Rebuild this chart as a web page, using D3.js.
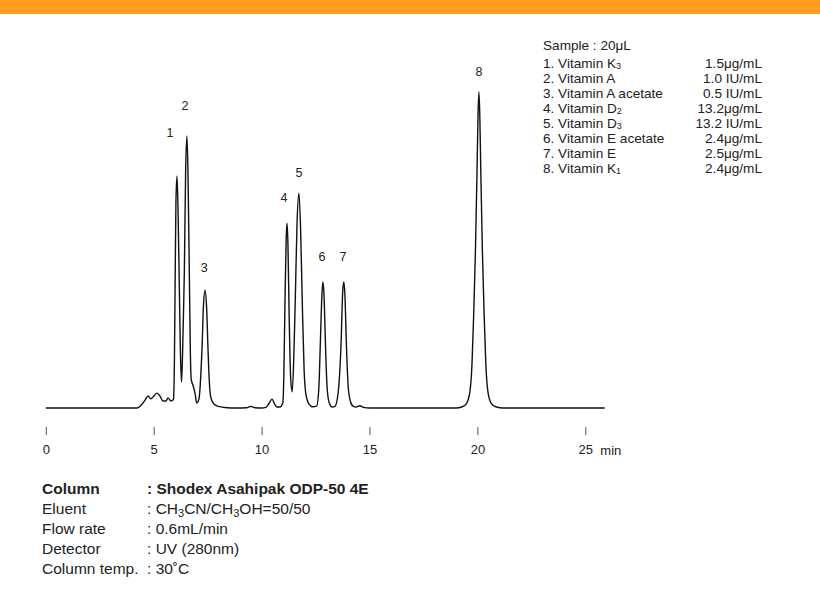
<!DOCTYPE html>
<html><head><meta charset="utf-8">
<script src="https://cdn.jsdelivr.net/npm/d3@7"></script>
<style>
html,body{margin:0;padding:0;background:#fff;}
svg{display:block;font-family:"Liberation Sans",Arial,Helvetica,sans-serif;}
</style></head>
<body><svg id="chart" width="820" height="594"></svg>
<script>
// ---- data (time in min, relative detector response) ----
const traceTime = [0, 4.2, 4.23, 4.41, 4.60, 4.74, 4.87, 5.01, 5.15, 5.29, 5.43, 5.57, 5.66, 5.80, 5.89,
  5.92, 5.96, 5.99, 6.03, 6.08, 6.13, 6.19, 6.24, 6.29,
  6.34, 6.38, 6.42, 6.48, 6.54, 6.59, 6.65, 6.70, 6.74, 6.82, 6.92, 6.99, 7.07,
  7.12, 7.18, 7.24, 7.31, 7.38, 7.45, 7.52, 7.58, 7.66, 7.80, 8.00, 8.40, 8.80,
  9.30, 9.50, 9.70, 10.0, 10.2, 10.35, 10.48, 10.60, 10.72, 10.85,
  10.98, 11.03, 11.08, 11.14, 11.18, 11.22, 11.28, 11.35, 11.42,
  11.50, 11.56, 11.64, 11.73, 11.81, 11.89, 11.97, 12.06, 12.20, 12.35,
  12.55, 12.65, 12.72, 12.80, 12.84, 12.89, 12.96, 13.04, 13.14, 13.27,
  13.40, 13.55, 13.68, 13.76, 13.81, 13.86, 13.93, 14.02, 14.12, 14.25, 14.38, 14.55, 14.72, 15.0,
  19.0, 19.3, 19.5, 19.65, 19.75, 19.83, 19.91, 19.98, 20.03, 20.07, 20.11, 20.16, 20.23, 20.31, 20.39, 20.49, 20.64, 20.85, 21.2, 25.9];
const traceSignal = [0, 0, 0, 0.8, 2.5, 3.8, 2.9, 3.8, 4.7, 3.8, 2.2, 2.2, 3.2, 2.2, 2.5,
  3, 15, 37, 65, 73.4, 62, 37, 17, 8.2,
  18, 30, 43, 75, 86.1, 74, 43, 17, 9, 7.2, 4.5, 1.6, 2.2,
  4, 10, 19, 33, 37.3, 32, 18, 8, 3, 1.2, 0.5, 0.1, 0,
  0.1, 0.5, 0.1, 0, 0.2, 1.5, 2.8, 1.3, 0.3, 0.3,
  1.5, 10, 32, 54, 58.5, 52, 28, 9, 5.1,
  18, 34, 58, 68, 56, 32, 12, 4, 1.2, 0.4,
  0.6, 6, 20, 36.5, 39.9, 36, 20, 6, 1.5, 0.3,
  0.5, 5, 20, 37, 39.9, 36, 20, 6, 2, 0.5, 0.3, 0.7, 0.2, 0,
  0, 0.4, 1.5, 5, 14, 30, 50, 74, 93, 100, 93, 74, 50, 30, 14, 5, 1.5, 0.4, 0, 0];

const peakLabels = ["1", "2", "3", "4", "5", "6", "7", "8"];
const peakLabelTime = [5.76, 6.45, 7.34, 11.04, 11.73, 12.80, 13.77, 20.07];
const peakLabelSignal = [87.0, 95.6, 44.3, 66.5, 74.4, 47.8, 47.8, 106.3];

const tickValues = [0, 5, 10, 15, 20, 25];
const xUnit = "min";

const sampleTitle = "Sample : 20μL";
const compoundNames = [["1. Vitamin K", "3"], ["2. Vitamin A", ""], ["3. Vitamin A acetate", ""], ["4. Vitamin D", "2"],
  ["5. Vitamin D", "3"], ["6. Vitamin E acetate", ""], ["7. Vitamin E", ""], ["8. Vitamin K", "1"]];
const compoundConc = ["1.5μg/mL", "1.0 IU/mL", "0.5 IU/mL", "13.2μg/mL", "13.2 IU/mL", "2.4μg/mL", "2.5μg/mL", "2.4μg/mL"];

const conditionKeys = ["Column", "Eluent", "Flow rate", "Detector", "Column temp."];
const conditionValues = [[["Shodex Asahipak ODP-50 4E", ""]],
  [["CH", ""], ["3", "sub"], ["CN/CH", ""], ["3", "sub"], ["OH=50/50", ""]],
  [["0.6mL/min", ""]], [["UV (280nm)", ""]], [["30˚C", ""]]];

// ---- drawing ----
const svg = d3.select("#chart");
const ink = "#222";

svg.append("rect").attr("x", 0).attr("y", 0).attr("width", 820).attr("height", 14).attr("fill", "#FF9E1C");

const x = d3.scaleLinear().domain([0, 25]).range([45.8, 585.3]);
const y = d3.scaleLinear().domain([0, 100]).range([408, 92]);

const pts = traceTime.map((t, i) => [t, traceSignal[i]]);
const line = d3.line().x(d => x(d[0])).y(d => y(d[1])).curve(d3.curveMonotoneX);
svg.append("path").datum(pts).attr("d", line).attr("fill", "none")
  .attr("stroke", "#111").attr("stroke-width", 1.4).attr("stroke-linejoin", "round");

// axis
const axis = d3.axisBottom(x).tickValues(tickValues).tickSize(8).tickPadding(10).tickFormat(d3.format("d"));
const gx = svg.append("g").attr("transform", "translate(0,427)").call(axis);
gx.select(".domain").remove();
gx.selectAll(".tick line").attr("stroke", "#555");
gx.selectAll(".tick text").attr("fill", ink).attr("font-size", 13).attr("font-family", "Liberation Sans, Arial, sans-serif");
svg.append("text").attr("x", x(25) + 15).attr("y", 455).attr("font-size", 13).attr("fill", ink).text(xUnit);

// peak labels
svg.append("g").selectAll("text").data(peakLabels).join("text")
  .attr("x", (d, i) => x(peakLabelTime[i])).attr("y", (d, i) => y(peakLabelSignal[i]))
  .attr("text-anchor", "middle").attr("dominant-baseline", "central")
  .attr("font-size", 12.5).attr("fill", ink).text(d => d);

// legend
const lg = svg.append("g").attr("font-size", 13.6).attr("fill", ink);
lg.append("text").attr("x", 543).attr("y", 50).text(sampleTitle);
compoundNames.forEach((nm, i) => {
  const yy = 67.5 + i * 15;
  const t = lg.append("text").attr("x", 543).attr("y", yy);
  t.append("tspan").text(nm[0]);
  if (nm[1]) t.append("tspan").attr("dy", 1.5).attr("font-size", 9).text(nm[1]);
  lg.append("text").attr("x", 762).attr("y", yy).attr("text-anchor", "end").text(compoundConc[i]);
});

// conditions
const cg = svg.append("g").attr("font-size", 15.5).attr("fill", ink);
conditionKeys.forEach((k, i) => {
  const yy = 493.5 + i * 20;
  const bold = i === 0 ? "bold" : "normal";
  cg.append("text").attr("x", 42).attr("y", yy).attr("font-weight", bold).text(k);
  const t = cg.append("text").attr("x", 147).attr("y", yy).attr("font-weight", bold);
  t.append("tspan").text(": ");
  let prevSub = false;
  conditionValues[i].forEach(p => {
    if (p[1] === "sub") { t.append("tspan").attr("dy", 3).attr("font-size", 11).text(p[0]); prevSub = true; }
    else {
      const s = t.append("tspan").text(p[0]);
      if (prevSub) s.attr("dy", -3);
      prevSub = false;
    }
  });
});
</script></body></html>
